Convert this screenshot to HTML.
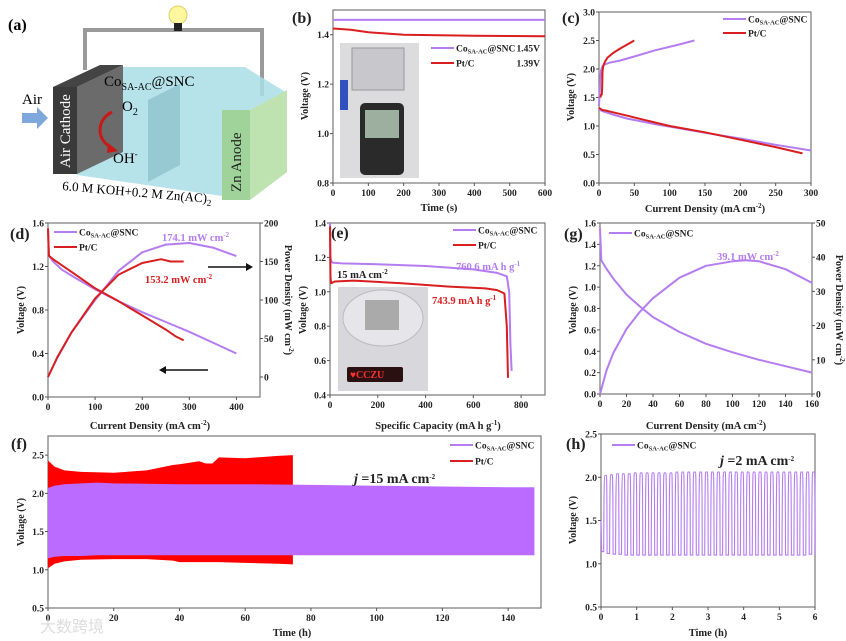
<!DOCTYPE html>
<html><head><meta charset="utf-8"><style>
html,body{margin:0;padding:0;background:#fff;width:846px;height:641px;overflow:hidden}
svg{display:block;font-family:"Liberation Serif","Noto Serif CJK SC",serif;font-weight:bold}
</style></head><body>
<svg id="fig" width="846" height="641" viewBox="0 0 846 641" xmlns="http://www.w3.org/2000/svg">
<g id="panel-a">
  <polyline points="85,70 85,30 262,30 262,96" fill="none" stroke="#9a9a9a" stroke-width="4"/>
  <circle cx="178" cy="15" r="9" fill="#fff7a0" stroke="#e0d060" stroke-width="1"/>
  <rect x="174" y="23" width="8" height="8" fill="#222"/>
  <polygon points="100,67 245,67 287,93 287,172 250,200 77,175 77,87" fill="#a9dde6" opacity="0.85"/>
  <polygon points="148,100 180,84 180,165 148,182" fill="#8fc3cc" opacity="0.8"/>
  <polygon points="53,87 100,65 123,65 77,87" fill="#444"/>
  <polygon points="77,87 123,65 123,152 77,174" fill="#6b6b6b"/>
  <rect x="53" y="87" width="24" height="87" fill="#3a3a3a"/>
  <polygon points="250,110 287,90 287,172 250,200" fill="#bfe3b0"/>
  <rect x="222" y="110" width="28" height="90" fill="#9fd39a"/>
  <text x="70" y="168" fill="#fff" font-family="Liberation Serif, serif" font-weight="normal" font-size="15" transform="rotate(-90 70 168)">Air Cathode</text>
  <text x="241" y="192" fill="#222" font-weight="normal" font-size="15" transform="rotate(-90 241 192)">Zn Anode</text>
  <polygon points="22,113 37,113 37,107 48,118 37,129 37,123 22,123" fill="#7ea7dc"/>
  <text x="22" y="104" font-weight="normal" font-size="15">Air</text>
  <text x="104" y="86" font-weight="normal" font-size="15">Co<tspan font-size="10" dy="4">SA-AC</tspan><tspan dy="-4">@SNC</tspan></text>
  <text x="122" y="111" font-weight="normal" font-size="15">O<tspan font-size="10" dy="4">2</tspan></text>
  <text x="113" y="163" font-weight="normal" font-size="15">OH<tspan font-size="9" dy="-6">-</tspan></text>
  <path d="M112,112 C96,120 96,140 112,148" fill="none" stroke="#c81818" stroke-width="3"/>
  <polygon points="108,143 118,151 107,153" fill="#c81818"/>
  <text x="62" y="190" font-weight="normal" font-size="13" transform="rotate(5 62 190)">6.0 M KOH+0.2 M Zn(AC)<tspan font-size="9" dy="3">2</tspan></text>
</g>
<text x="8" y="30" font-size="16">(a)</text>
<g id="root"></g>
<text x="40" y="632" font-size="16" fill="#ddd" font-weight="normal" font-family="Liberation Sans, Noto Sans CJK SC, sans-serif">大数跨境</text>
</svg>
<script>
// ---- data ----
const bTimeCo=[0,600], bVoltCo=[1.46,1.46];
const bTimePt=[0,50,100,150,200,300,400,500,600], bVoltPt=[1.425,1.42,1.41,1.405,1.4,1.398,1.396,1.395,1.394];
const cDisCoX=[0,2,5,10,20,40,60,80,100,150,200,250,300], cDisCoY=[1.3,1.28,1.26,1.24,1.2,1.13,1.08,1.03,0.99,0.88,0.78,0.67,0.57];
const cDisPtX=[0,2,5,10,20,40,60,80,100,150,200,250,288], cDisPtY=[1.32,1.3,1.28,1.27,1.24,1.18,1.12,1.06,1.0,0.89,0.76,0.63,0.52];
const cChCoX=[0,1,2,3,5,8,15,30,50,80,110,135], cChCoY=[1.35,1.6,1.85,1.98,2.05,2.08,2.11,2.15,2.22,2.33,2.42,2.5];
const cChPtX=[2,3,4,4.5,5,6,8,12,20,30,40,50], cChPtY=[1.5,1.55,1.55,1.7,1.95,2.05,2.12,2.2,2.28,2.36,2.43,2.5];
const dVCoX=[0,2,10,30,60,100,150,200,250,300,350,400], dVCoY=[1.55,1.3,1.25,1.17,1.09,0.99,0.88,0.78,0.69,0.6,0.5,0.4];
const dVPtX=[0,2,10,30,60,100,150,200,250,270,288], dVPtY=[1.55,1.3,1.27,1.21,1.12,1.0,0.88,0.75,0.62,0.56,0.52];
const dPCoX=[0,20,50,100,150,200,250,300,350,400], dPCoY=[0,25,58,100,138,162,172,174,168,157];
const dPPtX=[0,20,50,100,150,200,240,260,288], dPPtY=[0,26,58,102,133,148,153,150,150];
const eCoX=[0,2,5,10,50,200,400,600,700,740,750,755,760], eCoY=[1.4,1.2,1.18,1.17,1.165,1.16,1.15,1.13,1.11,1.09,1.0,0.7,0.54];
const ePtX=[0,2,5,20,100,300,500,650,700,730,740,745], ePtY=[1.38,1.08,1.05,1.06,1.065,1.05,1.03,1.02,1.01,0.99,0.8,0.5];
const gVX=[0,1,5,10,20,30,40,60,80,100,120,140,160], gVY=[1.55,1.25,1.17,1.08,0.93,0.82,0.72,0.58,0.47,0.39,0.32,0.26,0.2];
const gPX=[0,5,10,20,30,40,60,80,100,110,120,140,160], gPY=[0,7,12,19,24,28,34,37.5,38.8,39.1,38.8,36.5,32.5];
const fPtT=[0,2,5,10,20,30,38,40,46,48,50,52,60,70,74.5];
const fPtHi=[2.43,2.35,2.3,2.28,2.27,2.3,2.37,2.38,2.42,2.39,2.39,2.47,2.46,2.49,2.5];
const fPtLo=[1.02,1.08,1.11,1.13,1.14,1.14,1.12,1.1,1.1,1.1,1.1,1.1,1.09,1.08,1.07];
const fCoT=[0,2,5,10,15,20,40,60,80,100,120,140,148];
const fCoHi=[2.07,2.1,2.12,2.13,2.14,2.13,2.12,2.12,2.11,2.1,2.09,2.08,2.08];
const fCoLo=[1.15,1.17,1.18,1.18,1.19,1.19,1.19,1.19,1.19,1.19,1.19,1.19,1.19];
const hHi=[2.02,2.03,2.04,2.04,2.04,2.05,2.05,2.05,2.05,2.05,2.05,2.05,2.06,2.06,2.06,2.06,2.06,2.06,2.06,2.06,2.06,2.06,2.06,2.06,2.06,2.06,2.06,2.06,2.06,2.06,2.06,2.06,2.06,2.06,2.06,2.06];
const hLo=[1.14,1.12,1.11,1.11,1.1,1.1,1.1,1.1,1.1,1.1,1.1,1.1,1.1,1.1,1.1,1.1,1.1,1.1,1.1,1.1,1.1,1.1,1.1,1.1,1.1,1.1,1.1,1.1,1.1,1.1,1.1,1.1,1.1,1.1,1.1,1.11];
const hHours=6;
// ---- helpers ----
const NS='http://www.w3.org/2000/svg';
const root=document.getElementById('root');
const PUR='#b47cf0', RED='#d81e1e';
function el(tag,attrs,name,parent){
  const e=document.createElementNS(NS,tag);
  for(const k in attrs) e.setAttribute(k,attrs[k]);
  
  
  (parent||root).appendChild(e);return e;
}
function txt(x,y,s,name,opt){
  opt=opt||{};
  const t=el('text',{x:x,y:y,'font-size':opt.size||9.5,fill:opt.fill||'#222','text-anchor':opt.anchor||'start'},name);
  if(opt.rot) t.setAttribute('transform','rotate('+opt.rot+' '+x+' '+y+')');
  t.innerHTML=s; return t;
}
function panel(p){
  p.sx=v=>p.L+(v-p.xd[0])/(p.xd[1]-p.xd[0])*(p.R-p.L);
  p.sy=v=>p.B-(v-p.yd[0])/(p.yd[1]-p.yd[0])*(p.B-p.T);
  if(p.rd) p.sr=v=>p.B-(v-p.rd[0])/(p.rd[1]-p.rd[0])*(p.B-p.T);
  el('rect',{x:p.L,y:p.T,width:p.R-p.L,height:p.B-p.T,fill:'none',stroke:'#777','stroke-width':1.2},p.id+'-frame');
  p.xt.forEach(v=>{const x=p.sx(v);
    el('line',{x1:x,x2:x,y1:p.B,y2:p.B+3,stroke:'#555'},p.id+'-x-tick');
    txt(x,p.B+13,String(v),p.id+'-x-tick-label',{anchor:'middle'});});
  p.yt.forEach(v=>{const y=p.sy(v);
    el('line',{x1:p.L-3,x2:p.L,y1:y,y2:y,stroke:'#555'},p.id+'-y-tick');
    txt(p.L-4,y+3.5,v.toFixed(p.yf),p.id+'-y-tick-label',{anchor:'end'});});
  if(p.rt) p.rt.forEach(v=>{const y=p.sr(v);
    el('line',{x1:p.R,x2:p.R+3,y1:y,y2:y,stroke:'#555'},p.id+'-right-tick');
    txt(p.R+4,y+3.5,String(v),p.id+'-right-tick-label');});
}
function line(p,xs,ys,color,name,right,w){
  const f=right?p.sr:p.sy;
  const d=xs.map((x,i)=>(i?'L':'M')+p.sx(x).toFixed(1)+','+f(ys[i]).toFixed(1)).join('');
  el('path',{d:d,fill:'none',stroke:color,'stroke-width':w||2,'stroke-linejoin':'round'},name);
}
function band(p,ts,hi,lo,color,name){
  let d=ts.map((t,i)=>(i?'L':'M')+p.sx(t).toFixed(1)+','+p.sy(hi[i]).toFixed(1)).join('');
  for(let i=ts.length-1;i>=0;i--) d+='L'+p.sx(ts[i]).toFixed(1)+','+p.sy(lo[i]).toFixed(1);
  el('path',{d:d+'Z',fill:color},name);
}
function leg(x,y,color,label,name,len){
  el('line',{x1:x,x2:x+(len||23),y1:y,y2:y,stroke:color,'stroke-width':2},name+'-swatch');
  txt(x+(len||23)+2,y+3.5,label,name+'-label',{size:9.5});
}
const CO='Co<tspan font-size="6.5" dy="2">SA-AC</tspan><tspan dy="-2">@SNC</tspan>';
const SUP=s=>'<tspan font-size="7" dy="-4">'+s+'</tspan>';
// ---- panel b ----
const pb={id:'b',L:333,R:545,T:10,B:183,xd:[0,600],yd:[0.8,1.5],xt:[0,100,200,300,400,500,600],yt:[0.8,1.0,1.2,1.4],yf:1};
panel(pb);
const photoB=el('g',{},'multimeter-photo');
el('rect',{x:340,y:43,width:79,height:135,fill:'#dcdcdf'},'photo-b-bg',photoB);
el('rect',{x:352,y:48,width:52,height:42,fill:'#c8c8cc',stroke:'#999'},'photo-b-cell',photoB);
el('rect',{x:360,y:103,width:44,height:72,rx:5,fill:'#2a2a2a'},'photo-b-meter',photoB);
el('rect',{x:365,y:110,width:34,height:28,fill:'#9db0a0'},'photo-b-screen',photoB);
el('rect',{x:340,y:80,width:8,height:30,fill:'#3050c0'},'photo-b-glove',photoB);
line(pb,bTimeCo,bVoltCo,PUR,'b-co-line');
line(pb,bTimePt,bVoltPt,RED,'b-pt-line');
leg(431,48,PUR,CO,'b-legend-co');txt(540,51.5,'1.45V','b-co-value',{anchor:'end'});
leg(431,63,RED,'Pt/C','b-legend-pt');txt(540,66.5,'1.39V','b-pt-value',{anchor:'end'});
txt(292,23,'(b)','panel-label-b',{size:16});
txt(308,96,'Voltage (V)','b-y-axis-title',{anchor:'middle',rot:-90,size:10});
txt(439,211,'Time (s)','b-x-axis-title',{anchor:'middle',size:10.5});
// ---- panel c ----
const pc={id:'c',L:599,R:811,T:12,B:183,xd:[0,300],yd:[0,3],xt:[0,50,100,150,200,250,300],yt:[0,0.5,1,1.5,2,2.5,3],yf:1};
panel(pc);
line(pc,cDisCoX,cDisCoY,PUR,'c-co-discharge');line(pc,cChCoX,cChCoY,PUR,'c-co-charge');
line(pc,cDisPtX,cDisPtY,RED,'c-pt-discharge');line(pc,cChPtX,cChPtY,RED,'c-pt-charge');
leg(723,19,PUR,CO,'c-legend-co');leg(723,33,RED,'Pt/C','c-legend-pt');
txt(562,23,'(c)','panel-label-c',{size:16});
txt(574,97,'Voltage (V)','c-y-axis-title',{anchor:'middle',rot:-90,size:10});
txt(705,212,'Current Density (mA cm'+SUP('-2')+'<tspan dy="4">)</tspan>','c-x-axis-title',{anchor:'middle',size:10.5});
// ---- panel d ----
const pd={id:'d',L:48,R:260,T:223,B:397,xd:[0,450],yd:[0,1.6],xt:[0,100,200,300,400],yt:[0,0.4,0.8,1.2,1.6],yf:1,rd:[-26,200],rt:[0,50,100,150,200]};
panel(pd);
line(pd,dVCoX,dVCoY,PUR,'d-co-voltage');line(pd,dVPtX,dVPtY,RED,'d-pt-voltage');
line(pd,dPCoX,dPCoY,PUR,'d-co-power',true);line(pd,dPPtX,dPPtY,RED,'d-pt-power',true);
leg(54,232,PUR,CO,'d-legend-co');leg(54,247,RED,'Pt/C','d-legend-pt');
txt(162,241,'174.1 mW cm'+SUP('-2'),'d-co-peak-label',{fill:PUR,size:10.5});
txt(145,283,'153.2 mW cm'+SUP('-2'),'d-pt-peak-label',{fill:RED,size:10.5});
el('line',{x1:208,x2:246,y1:267,y2:267,stroke:'#111','stroke-width':1.5},'d-right-arrow');
el('polygon',{points:'246,263 253,267 246,271',fill:'#111'},'d-right-arrowhead');
el('line',{x1:166,x2:208,y1:370,y2:370,stroke:'#111','stroke-width':1.5},'d-left-arrow');
el('polygon',{points:'166,366 159,370 166,374',fill:'#111'},'d-left-arrowhead');
txt(10,239,'(d)','panel-label-d',{size:16});
txt(24,310,'Voltage (V)','d-y-axis-title',{anchor:'middle',rot:-90,size:10});
txt(285,300,'Power Density (mW cm'+SUP('-2')+'<tspan dy="4">)</tspan>','d-right-axis-title',{anchor:'middle',rot:90,size:10});
txt(150,429,'Current Density (mA cm'+SUP('-2')+'<tspan dy="4">)</tspan>','d-x-axis-title',{anchor:'middle',size:10.5});
// ---- panel e ----
const pe={id:'e',L:330,R:545,T:223,B:395,xd:[0,900],yd:[0.4,1.4],xt:[0,200,400,600,800],yt:[0.4,0.6,0.8,1.0,1.2,1.4],yf:1};
panel(pe);
const photoE=el('g',{},'led-photo');
el('rect',{x:338,y:287,width:90,height:104,fill:'#d8d8dc'},'photo-e-bg',photoE);
el('ellipse',{cx:383,cy:318,rx:40,ry:28,fill:'#e6e6ea',stroke:'#bbb'},'photo-e-dish',photoE);
el('rect',{x:365,y:300,width:34,height:30,fill:'#aaa'},'photo-e-cell',photoE);
el('rect',{x:347,y:367,width:56,height:15,rx:2,fill:'#2a1010'},'photo-e-led',photoE);
txt(350,378,'♥CCZU','photo-e-led-text',{fill:'#ff3030',size:10});
line(pe,eCoX,eCoY,PUR,'e-co-line');line(pe,ePtX,ePtY,RED,'e-pt-line');
leg(453,230,PUR,CO,'e-legend-co');leg(453,245,RED,'Pt/C','e-legend-pt');
txt(456,270,'760.6 mA h g'+SUP('-1'),'e-co-capacity-label',{fill:PUR,size:10.5});
txt(337,278,'15 mA cm'+SUP('-2'),'e-current-label',{size:10.5});
txt(432,304,'743.9 mA h g'+SUP('-1'),'e-pt-capacity-label',{fill:RED,size:10.5});
txt(331,238,'(e)','panel-label-e',{size:16});
txt(306,310,'Voltage (V)','e-y-axis-title',{anchor:'middle',rot:-90,size:10});
txt(438,429,'Specific Capacity (mA h g'+SUP('-1')+'<tspan dy="4">)</tspan>','e-x-axis-title',{anchor:'middle',size:10.5});
// ---- panel g ----
const pg={id:'g',L:600,R:812,T:223,B:394,xd:[0,160],yd:[0,1.6],xt:[0,20,40,60,80,100,120,140,160],yt:[0,0.2,0.4,0.6,0.8,1.0,1.2,1.4,1.6],yf:1,rd:[0,50],rt:[0,10,20,30,40,50]};
panel(pg);
line(pg,gVX,gVY,PUR,'g-voltage-line');line(pg,gPX,gPY,PUR,'g-power-line',true);
leg(609,233,PUR,CO,'g-legend-co');
txt(717,260,'39.1 mW cm'+SUP('-2'),'g-peak-label',{fill:PUR,size:10.5});
txt(564,239,'(g)','panel-label-g',{size:16});
txt(576,310,'Voltage (V)','g-y-axis-title',{anchor:'middle',rot:-90,size:10});
txt(836,310,'Power Density (mW cm'+SUP('-2')+'<tspan dy="4">)</tspan>','g-right-axis-title',{anchor:'middle',rot:90,size:10});
txt(706,429,'Current Density (mA cm'+SUP('-2')+'<tspan dy="4">)</tspan>','g-x-axis-title',{anchor:'middle',size:10.5});
// ---- panel f ----
const pf={id:'f',L:48,R:541,T:436,B:608,xd:[0,150],yd:[0.5,2.75],xt:[0,20,40,60,80,100,120,140],yt:[0.5,1.0,1.5,2.0,2.5],yf:1};
panel(pf);
band(pf,fPtT,fPtHi,fPtLo,'#ff0000','f-pt-band');
band(pf,fCoT,fCoHi,fCoLo,'#bb6bff','f-co-band');
leg(450,445,PUR,CO,'f-legend-co');leg(450,461,RED,'Pt/C','f-legend-pt');
txt(354,483,'<tspan font-style="italic">j</tspan> =15 mA cm'+SUP('-2'),'f-current-label',{size:14});
txt(11,449,'(f)','panel-label-f',{size:16});
txt(24,522,'Voltage (V)','f-y-axis-title',{anchor:'middle',rot:-90,size:10});
txt(292,636,'Time (h)','f-x-axis-title',{anchor:'middle',size:10.5});
// ---- panel h ----
const ph={id:'h',L:601,R:815,T:434,B:607,xd:[0,6],yd:[0.5,2.5],xt:[0,1,2,3,4,5,6],yt:[0.5,1.0,1.5,2.0,2.5],yf:1};
panel(ph);
(function(){
  const n=hHi.length, per=hHours/n;
  let d='M'+ph.sx(0).toFixed(1)+','+ph.sy(1.5).toFixed(1)+'L'+ph.sx(0.02).toFixed(1)+','+ph.sy(hLo[0]).toFixed(1);
  for(let i=0;i<n;i++){
    const t0=i*per;
    d+='L'+ph.sx(t0+per*0.45).toFixed(1)+','+ph.sy(hLo[i]).toFixed(1);
    d+='Q'+ph.sx(t0+per*0.5).toFixed(1)+','+ph.sy(hHi[i]).toFixed(1)+' '+ph.sx(t0+per*0.6).toFixed(1)+','+ph.sy(hHi[i]).toFixed(1);
    d+='L'+ph.sx(t0+per*0.92).toFixed(1)+','+ph.sy(hHi[i]).toFixed(1);
    const nl=hLo[Math.min(i+1,n-1)];
    d+='Q'+ph.sx(t0+per*1.0).toFixed(1)+','+ph.sy(hHi[i]).toFixed(1)+' '+ph.sx(t0+per*1.03).toFixed(1)+','+ph.sy(nl).toFixed(1);
  }
  el('path',{d:d,fill:'none',stroke:PUR,'stroke-width':1.1},'h-cycling-line');
})();
leg(612,445,PUR,CO,'h-legend-co');
txt(720,465,'<tspan font-style="italic">j</tspan> =2 mA cm'+SUP('-2'),'h-current-label',{size:14});
txt(566,449,'(h)','panel-label-h',{size:16});
txt(576,520,'Voltage (V)','h-y-axis-title',{anchor:'middle',rot:-90,size:10});
txt(708,636,'Time (h)','h-x-axis-title',{anchor:'middle',size:10.5});
</script>
</body></html>
